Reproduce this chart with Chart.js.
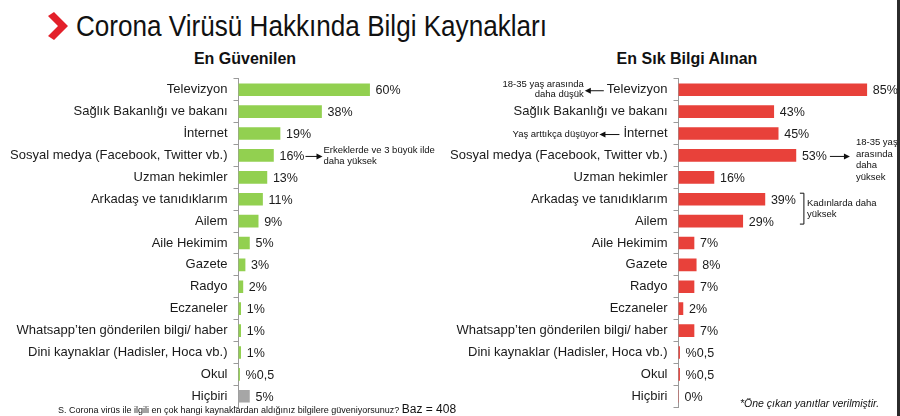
<!DOCTYPE html>
<html>
<head>
<meta charset="utf-8">
<script src="https://cdn.jsdelivr.net/npm/chart.js@4"></script>
<style>
  html, body { margin: 0; padding: 0; background: #fff; }
  body { width: 900px; height: 416px; position: relative; overflow: hidden; font-family: "Liberation Sans", Arial, sans-serif; color: #111; }
  .abs { position: absolute; }
  #title { left: 76px; top: 9px; font-size: 30px; white-space: nowrap; transform: scaleX(0.87); transform-origin: 0 0; }
  .sub { top: 50px; font-size: 16px; font-weight: bold; white-space: nowrap; transform: translateX(-50%); }
  #foot { left: 58px; top: 402px; font-size: 9px; white-space: nowrap; }
  #foot b { font-weight: normal; font-size: 12px; }
  #note { left: 740px; top: 397px; font-size: 10.5px; font-style: italic; white-space: nowrap; }
  #edge { right: 0; top: 0; width: 3px; height: 416px; background: #2b2b2b; }
</style>
</head>
<body>
<svg class="abs" style="left:46px;top:12px" width="26" height="28" viewBox="0 0 26 28">
  <polygon points="2,4 8,0 22,14 8,28 2,24 12,14" fill="#e3202a"/>
</svg>
<div id="title" class="abs">Corona Virüsü Hakkında Bilgi Kaynakları</div>
<div class="abs sub" style="left:245px">En Güvenilen</div>
<div class="abs sub" style="left:687px">En Sık Bilgi Alınan</div>
<canvas id="left" class="abs" style="left:0;top:65px" width="460" height="356"></canvas>
<canvas id="right" class="abs" style="left:440px;top:65px" width="460" height="356"></canvas>
<div id="foot" class="abs">S. Corona virüs ile ilgili en çok hangi kaynaklardan aldığınız bilgilere güveniyorsunuz? <b>Baz = 408</b></div>
<div id="note" class="abs">*Öne çıkan yanıtlar verilmiştir.</div>
<div id="edge" class="abs"></div>
<script>
const categories = [
  'Televizyon',
  'Sağlık Bakanlığı ve bakanı',
  'İnternet',
  'Sosyal medya (Facebook, Twitter vb.)',
  'Uzman hekimler',
  'Arkadaş ve tanıdıklarım',
  'Ailem',
  'Aile Hekimim',
  'Gazete',
  'Radyo',
  'Eczaneler',
  'Whatsapp’ten gönderilen bilgi/ haber',
  'Dini kaynaklar (Hadisler, Hoca vb.)',
  'Okul',
  'Hiçbiri'
];
const trustValues = [60, 38, 19, 16, 13, 11, 9, 5, 3, 2, 1, 1, 1, 0.5, 5];
const freqValues = [85, 43, 45, 53, 16, 39, 29, 7, 8, 7, 2, 7, 0.5, 0.5, 0];

const GREEN = '#92d050';
const GREY = '#a6a6a6';
const RED = '#e8413a';
const FONT = '"Liberation Sans", Arial, sans-serif';
const VALUE_FONT = '12.5px ' + FONT;

const fmt = v => v === 0.5 ? '%0,5' : v + '%';

// side notes drawn per chart, keyed by canvas id
const notes = {};

function arrow(ctx, x1, x2, y) {
  // line from x1 to x2, head at x2
  const dir = x2 > x1 ? 1 : -1;
  ctx.beginPath();
  ctx.moveTo(x1, y);
  ctx.lineTo(x2 - dir * 4, y);
  ctx.stroke();
  ctx.beginPath();
  ctx.moveTo(x2, y);
  ctx.lineTo(x2 - dir * 6, y - 3);
  ctx.lineTo(x2 - dir * 6, y + 3);
  ctx.closePath();
  ctx.fill();
}

const valueLabels = {
  id: 'valueLabels',
  afterDatasetsDraw(chart) {
    const ctx = chart.ctx;
    const meta = chart.getDatasetMeta(0);
    ctx.save();
    ctx.font = VALUE_FONT;
    ctx.fillStyle = '#1a1a1a';
    ctx.textBaseline = 'middle';
    meta.data.forEach((el, i) => {
      ctx.fillText(fmt(chart.data.datasets[0].data[i]), el.x + 6, el.y + 1);
    });
    ctx.restore();
    const fn = notes[chart.canvas.id];
    if (fn) fn(chart, meta.data);
  }
};

function labelEnd(chart, els, i) {
  const ctx = chart.ctx;
  ctx.save();
  ctx.font = VALUE_FONT;
  const w = ctx.measureText(fmt(chart.data.datasets[0].data[i])).width;
  ctx.restore();
  return els[i].x + 6 + w;
}

function tickLeft(chart, i) {
  const ctx = chart.ctx;
  ctx.save();
  ctx.font = '13px ' + FONT;
  const w = ctx.measureText(categories[i]).width;
  ctx.restore();
  return chart.chartArea.left - 11 - w;
}

notes.left = (chart, els) => {
  const ctx = chart.ctx;
  ctx.save();
  ctx.strokeStyle = '#111';
  ctx.fillStyle = '#111';
  ctx.lineWidth = 1;
  const x0 = labelEnd(chart, els, 3) + 1;
  const y = els[3].y + 1;
  arrow(ctx, x0, x0 + 17, y);
  ctx.font = '9.5px ' + FONT;
  ctx.textBaseline = 'middle';
  ctx.fillText('Erkeklerde ve 3 büyük ilde', x0 + 18, y - 6);
  ctx.fillText('daha yüksek', x0 + 18, y + 5);
  ctx.restore();
};

notes.right = (chart, els) => {
  const ctx = chart.ctx;
  ctx.save();
  ctx.strokeStyle = '#111';
  ctx.fillStyle = '#111';
  ctx.lineWidth = 1;
  ctx.font = '9.5px ' + FONT;
  ctx.textBaseline = 'middle';

  // Televizyon
  let xl = tickLeft(chart, 0) - 3;
  let y = els[0].y + 1;
  arrow(ctx, xl, xl - 19, y);
  ctx.textAlign = 'right';
  ctx.fillText('18-35 yaş arasında', xl - 20, y - 6);
  ctx.fillText('daha düşük', xl - 20, y + 4);

  // İnternet
  xl = tickLeft(chart, 2) - 4;
  y = els[2].y + 1;
  arrow(ctx, xl, xl - 20, y);
  ctx.fillText('Yaş arttıkça düşüyor', xl - 21, y);

  // Sosyal medya
  ctx.textAlign = 'left';
  const x0 = labelEnd(chart, els, 3) + 3;
  y = els[3].y + 1;
  arrow(ctx, x0, x0 + 20, y);
  ['18-35 yaş', 'arasında', 'daha', 'yüksek'].forEach((t, k) => {
    ctx.fillText(t, x0 + 26, y - 14 + k * 11.5);
  });

  // bracket for Arkadaş / Ailem
  const bx = labelEnd(chart, els, 5) + 8;
  const top = els[5].y - 6;
  const bot = els[6].y + 3;
  ctx.beginPath();
  ctx.moveTo(bx - 4, top);
  ctx.lineTo(bx, top);
  ctx.lineTo(bx, bot);
  ctx.lineTo(bx - 4, bot);
  ctx.stroke();
  ctx.fillText('Kadınlarda daha', bx + 3, els[5].y + 4);
  ctx.fillText('yüksek', bx + 3, els[5].y + 15);
  ctx.restore();
};

function makeChart(id, values, colors) {
  return new Chart(document.getElementById(id), {
    type: 'bar',
    data: {
      labels: categories,
      datasets: [{
        data: values,
        backgroundColor: colors,
        barThickness: 12
      }]
    },
    options: {
      indexAxis: 'y',
      responsive: false,
      animation: false,
      layout: { padding: { top: 3, bottom: 5, left: 0, right: id === 'left' ? 3 : 0 } },
      scales: {
        x: { display: false, min: 0, max: 100 },
        y: {
          afterFit: s => { s.width = 238.5; },
          border: { color: '#9a9a9a', width: 1 },
          grid: { offset: true, drawOnChartArea: false, tickLength: 5, color: '#9a9a9a' },
          ticks: { color: '#1a1a1a', padding: 6, font: { family: FONT, size: 13 } }
        }
      },
      plugins: {
        legend: { display: false },
        tooltip: { enabled: false }
      }
    },
    plugins: [valueLabels]
  });
}

makeChart('left', trustValues,
  trustValues.map((v, i) => i === trustValues.length - 1 ? GREY : GREEN));
makeChart('right', freqValues, RED);
</script>
</body>
</html>
